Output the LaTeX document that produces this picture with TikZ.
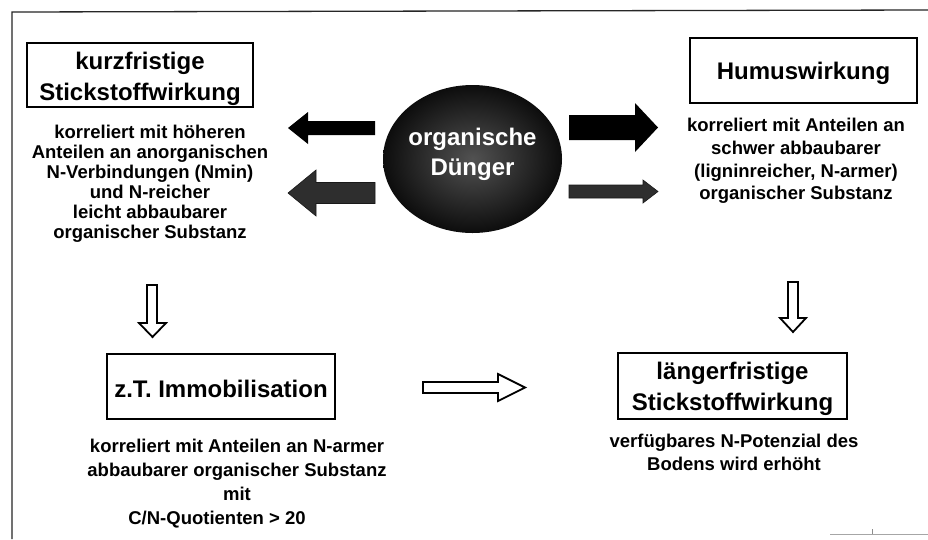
\documentclass[tikz,border=0pt]{standalone}
\usepackage{fontspec}
\setmainfont{Liberation Sans}
\usetikzlibrary{shapes.geometric}
\tikzset{
  headbox/.style={draw=black, line width=1.5pt, fill=white, inner sep=0pt},
  headtext/.style={inner sep=0pt, align=center, font=\fontsize{24}{30.5}\selectfont\bfseries},
  bodytext/.style={inner sep=0pt, align=center},
  solidarrow/.style={fill=black, draw=none},
  speckarrow/.style={fill=black!82, draw=black!90, line width=0.6pt},
  hollowarrow/.style={fill=white, draw=black, line width=1.8pt, line join=miter},
  framestyle/.style={draw=black!85, line width=1.3pt}
}
\begin{document}
\begin{tikzpicture}[x=1pt,y=-1pt]
\useasboundingbox (0,0) rectangle (928,539);
\fill[white] (0,0) rectangle (928,539);
% frame
\draw[framestyle] (12,539) -- (12,12) -- (928,10);
\draw[black!35, line width=0.8pt] (830,534) -- (928,534);
\draw[black!45, line width=0.8pt] (872,534) -- (872,529);

% boxes
\node[headbox, minimum width=226, minimum height=64] (kurz) at (140,75) {};
\node[headbox, minimum width=227, minimum height=65] (humus) at (803.5,70.5) {};
\node[headbox, minimum width=228, minimum height=65] (immo) at (221,386.5) {};
\node[headbox, minimum width=229, minimum height=66] (laenger) at (732.5,386) {};
\node[headtext] (kurzt) at ([yshift=-4pt]kurz.center) {kurzfristige\\Stickstoffwirkung};
\node[headtext] (humust) at ([yshift=-3pt]humus.center) {Humuswirkung};
\node[headtext] (immot) at ([yshift=-2pt]immo.center) {z.T. Immobilisation};
\node[headtext] (laengert) at ([yshift=-3pt]laenger.center) {längerfristige\\Stickstoffwirkung};

% body texts
\node[bodytext, font=\fontsize{18.5}{20}\selectfont\bfseries] (kurztext) at (150,184)
 {korreliert mit höheren\\Anteilen an anorganischen\\N-Verbindungen (Nmin)\\und N-reicher\\leicht abbaubarer\\organischer Substanz};
\node[bodytext, font=\fontsize{18.5}{22.7}\selectfont\bfseries] (humustext) at (796,161)
 {korreliert mit Anteilen an\\schwer abbaubarer\\(ligninreicher, N-armer)\\organischer Substanz};
\node[bodytext, font=\fontsize{18.5}{24}\selectfont\bfseries] (immotext) at (237,484)
 {korreliert mit Anteilen an N-armer\\abbaubarer organischer Substanz\\mit\\C/N-Quotienten > 20\hspace*{40pt}};
\node[bodytext, font=\fontsize{18.5}{23}\selectfont\bfseries] (laengertext) at (734,452)
 {verfügbares N-Potenzial des\\Bodens wird erhöht};

% central ellipse
\node[ellipse, minimum width=179, minimum height=148, inner sep=0pt,
      shading=radial, inner color=black!68, outer color=black!95] (oval) at (472.5,159) {};
\node[bodytext, text=white, font=\fontsize{24}{30}\selectfont\bfseries] (ovaltext) at ([yshift=5pt]oval.center)
 {organische\\Dünger};

% arrows from the ellipse
\fill[solidarrow] (375,121) -- (308,121) -- (308,112) -- (288,128) -- (308,144) -- (308,135) -- (375,135) -- cycle;
\filldraw[speckarrow] (375,182.5) -- (316,182.5) -- (316,170) -- (288,193) -- (316,216) -- (316,203.5) -- (375,203.5) -- cycle;
\fill[solidarrow] (569,115) -- (635,115) -- (635,103) -- (658,127.5) -- (635,152) -- (635,140) -- (569,140) -- cycle;
\filldraw[speckarrow] (569,185) -- (643,185) -- (643,180) -- (658,191.5) -- (643,203) -- (643,198) -- (569,198) -- cycle;

% hollow arrows
\draw[hollowarrow] (147,285) -- (157,285) -- (157,323) -- (166,323) -- (152.5,337) -- (139,323) -- (147,323) -- cycle;
\draw[hollowarrow] (788,282) -- (798,282) -- (798,318) -- (806,318) -- (793,332) -- (780,318) -- (788,318) -- cycle;
\draw[hollowarrow] (423,382) -- (498,382) -- (498,374) -- (525,387.5) -- (498,401) -- (498,393) -- (423,393) -- cycle;
\end{tikzpicture}
\end{document}
